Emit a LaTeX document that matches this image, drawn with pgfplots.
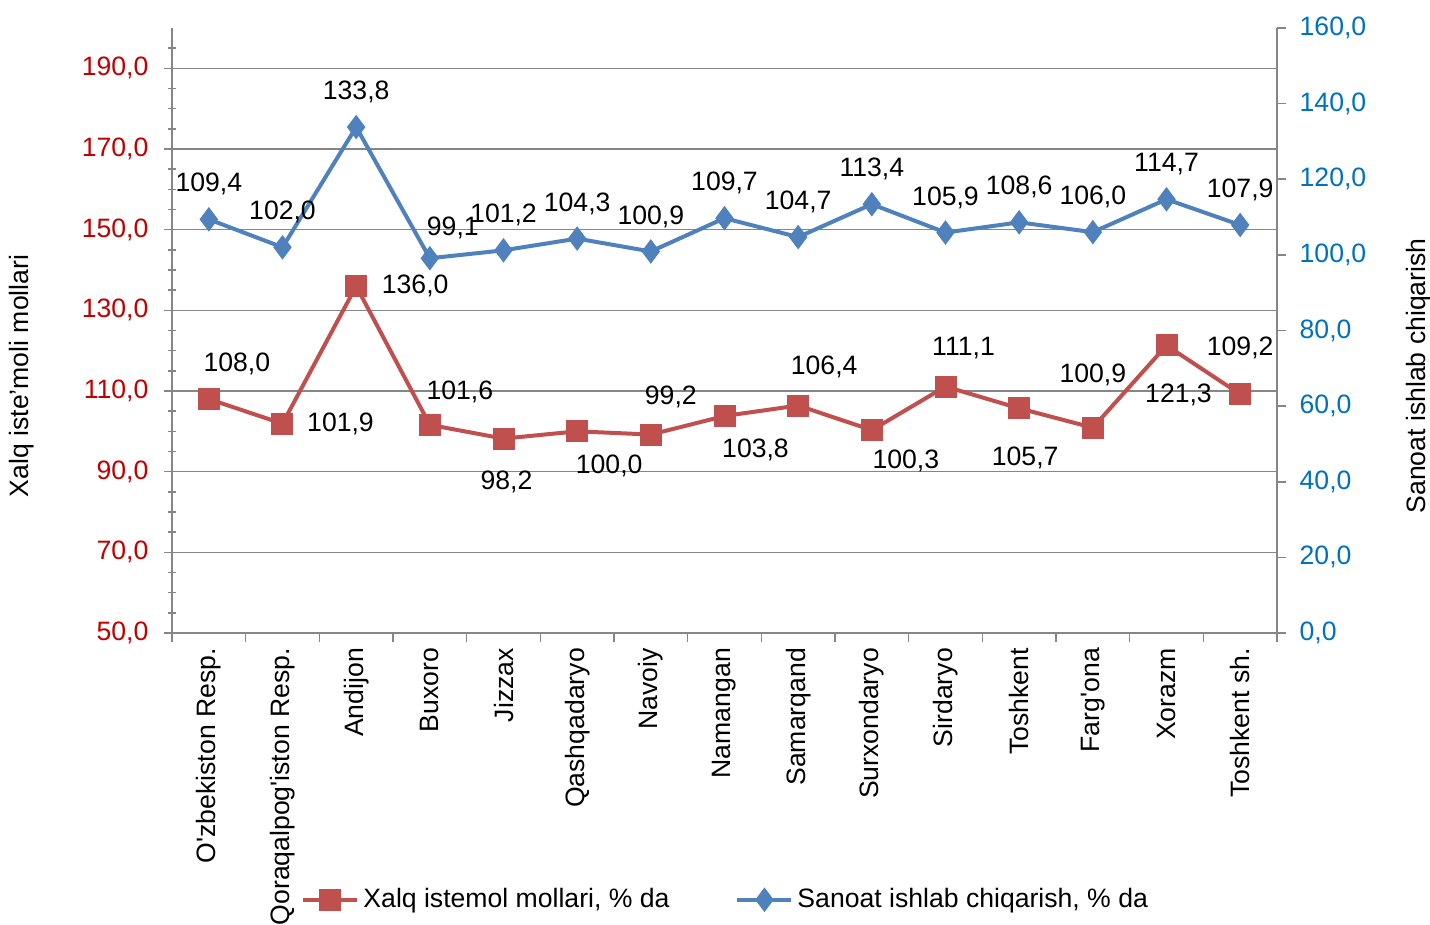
\documentclass[border=0pt]{standalone}
\usepackage{fontspec}
\setmainfont{Liberation Sans}[Ligatures=TeXOff]
\usepackage{pgfplots}
\pgfplotsset{compat=1.18}
\definecolor{ser1}{HTML}{C0504D}
\definecolor{ser2}{HTML}{4F81BD}
\definecolor{lt}{HTML}{C00000}
\definecolor{rt}{HTML}{0070C0}
\definecolor{ax}{HTML}{868686}
\newcommand{\lab}[5]{\node[xshift=#3pt,yshift=#4pt,inner sep=0pt] at (axis cs:#1,#2) {#5};}
\begin{document}
\begin{tikzpicture}[font=\fontsize{13.3}{16}\selectfont]
\begin{axis}[
 scale only axis, width=552.5pt, height=302.5pt,
 xmin=-0.5, xmax=14.5, ymin=50, ymax=200,
 axis x line*=bottom, axis y line*=left,
 axis line style={ax, line width=0.8pt},
 xtick={0,...,14},
 xticklabels={O'zbekiston Resp., Qoraqalpog'iston Resp., Andijon, Buxoro, Jizzax, Qashqadaryo, Navoiy, Namangan, Samarqand, Surxondaryo, Sirdaryo, Toshkent, Farg'ona, Xorazm, Toshkent sh.},
 major x tick style=transparent,
 x tick label style={rotate=90, anchor=east, text=black, xshift=-0.3pt},
 ytick={50,70,...,190},
 minor ytick={55,60,...,195},
 tick align=center, major tick length=7.5pt, minor tick length=4pt,
 tick style={ax, line width=0.8pt},
 ymajorgrids, grid style={ax, line width=0.8pt},
 y tick label style={text=lt, xshift=-4.5pt, /pgf/number format/.cd, fixed, fixed zerofill, precision=1, use comma, 1000 sep={}, assume math mode=true},
 ylabel={Xalq iste’moli mollari},
 ylabel style={at={(axis description cs:-0.1357,0.425)}, anchor=center, text=black},
]
\addplot[ser1, line width=2pt, mark=square*, mark size=4.5pt, mark options={solid}] coordinates {
(0,108.0) (1,101.9) (2,136.0) (3,101.6) (4,98.2) (5,100.0) (6,99.2) (7,103.8) (8,106.4) (9,100.3) (10,111.1) (11,105.7) (12,100.9) (13,121.3) (14,109.2)};
\lab{0}{108.0}{14}{17.5}{108,0}
\lab{1}{101.9}{29}{0}{101,9}
\lab{2}{136.0}{29.5}{0}{136,0}
\lab{3}{101.6}{15}{16.5}{101,6}
\lab{4}{98.2}{1.5}{-21.5}{98,2}
\lab{5}{100.0}{16}{-17.5}{100,0}
\lab{6}{99.2}{10}{19}{99,2}
\lab{7}{103.8}{15.5}{-17}{103,8}
\lab{8}{106.4}{13}{19.5}{106,4}
\lab{9}{100.3}{17}{-15.5}{100,3}
\lab{10}{111.1}{9}{19.5}{111,1}
\lab{11}{105.7}{3}{-25}{105,7}
\lab{12}{100.9}{0}{26.5}{100,9}
\lab{13}{121.3}{6}{-24.5}{121,3}
\lab{14}{109.2}{0}{23}{109,2}
\end{axis}
\begin{axis}[
 scale only axis, width=552.5pt, height=302.5pt,
 xmin=-0.5, xmax=14.5, ymin=0, ymax=160,
 axis x line*=bottom, axis y line*=right,
 axis line style={ax, line width=0.8pt},
 xtick={-0.5,0.5,...,14.5}, xticklabels={},
 ytick={0,20,...,160},
 tick align=outside, major tick length=4.5pt,
 tick style={ax, line width=0.8pt},
 y tick label style={text=rt, xshift=3.3pt, /pgf/number format/.cd, fixed, fixed zerofill, precision=1, use comma, 1000 sep={}, assume math mode=true},
 ylabel={Sanoat ishlab chiqarish},
 ylabel style={at={(axis description cs:1.1285,0.425)}, anchor=center, rotate=0, text=black},
 legend style={draw=none, fill=none, at={(0.502,-0.441)}, anchor=center, legend columns=2,
   /tikz/every even column/.append style={column sep=31pt}, font=\fontsize{13.3}{16}\selectfont},
 legend image code/.code={\draw[mark repeat=2,mark phase=2,#1] plot coordinates {(0pt,0pt) (13.5pt,0pt) (27pt,0pt)};},
]
\addlegendimage{ser1, line width=2pt, mark=square*, mark size=4.5pt, mark options={solid}}
\addlegendentry{Xalq istemol mollari, \% da}
\addplot[ser2, line width=2pt, mark=diamond*, mark size=4.5pt, mark options={solid}] coordinates {
(0,109.4) (1,102.0) (2,133.8) (3,99.1) (4,101.2) (5,104.3) (6,100.9) (7,109.7) (8,104.7) (9,113.4) (10,105.9) (11,108.6) (12,106.0) (13,114.7) (14,107.9)};
\addlegendentry{Sanoat ishlab chiqarish, \% da}
\lab{0}{109.4}{0}{17.5}{109,4}
\lab{1}{102.0}{0}{17.5}{102,0}
\lab{2}{133.8}{0}{17.5}{133,8}
\lab{3}{99.1}{11.5}{15}{99,1}
\lab{4}{101.2}{0}{17.5}{101,2}
\lab{5}{104.3}{0}{17.5}{104,3}
\lab{6}{100.9}{0}{17.5}{100,9}
\lab{7}{109.7}{0}{17.5}{109,7}
\lab{8}{104.7}{0}{17.5}{104,7}
\lab{9}{113.4}{0}{17.5}{113,4}
\lab{10}{105.9}{0}{17.5}{105,9}
\lab{11}{108.6}{0}{17.5}{108,6}
\lab{12}{106.0}{0}{17.5}{106,0}
\lab{13}{114.7}{0}{17.5}{114,7}
\lab{14}{107.9}{0}{17.5}{107,9}
\end{axis}
\pgfresetboundingbox
\path[use as bounding box] ([xshift=-86pt,yshift=-146pt]current axis.south west) rectangle ([xshift=76.5pt,yshift=14pt]current axis.north east);
\end{tikzpicture}
\end{document}
